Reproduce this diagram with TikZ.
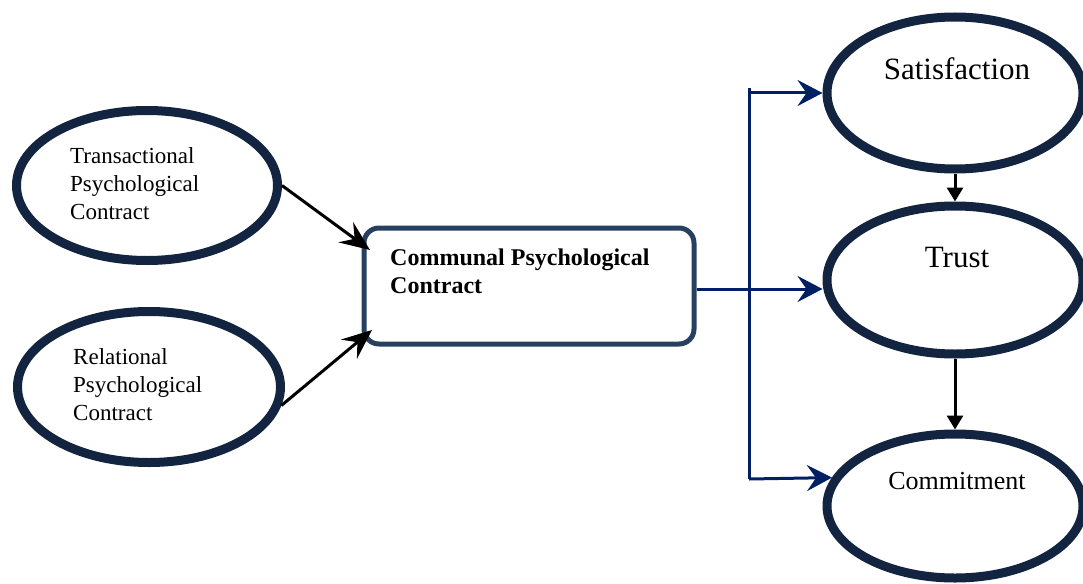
\documentclass[tikz,border=0pt]{standalone}
\usepackage{fontspec}
\setmainfont{Liberation Serif}
\usetikzlibrary{shapes.geometric,arrows.meta}

\definecolor{ovalblue}{RGB}{18,36,64}
\definecolor{boxblue}{RGB}{40,64,96}
\definecolor{linkblue}{RGB}{0,32,100}

\begin{document}
\begin{tikzpicture}[x=1pt,y=-1pt]
    % `construct' is used for all the ellipses.
    % `central' is used for the communal contract box.
    % `link' is for the blue connectors, `effect' and `drop' for the black ones.
    \tikzstyle{construct} = [draw=ovalblue,line width=9pt,ellipse,inner sep=0pt]
    \tikzstyle{central} = [draw=boxblue,line width=5pt,rounded corners=15pt,minimum width=330pt,minimum height=116pt]
    \tikzstyle{ctext} = [inner sep=0pt,align=left,anchor=base west]
    \tikzstyle{rtext} = [inner sep=0pt,anchor=base]
    \tikzstyle{link} = [draw=linkblue,line width=3pt,-{Stealth[length=25pt,width=26pt,inset=9pt]}]
    \tikzstyle{effect} = [draw=black,line width=3pt,-{Stealth[length=30pt,width=25pt,inset=11pt]}]
    \tikzstyle{drop} = [draw=black,line width=3pt,-{Triangle[length=14pt,width=16pt]}]
    %
    \useasboundingbox (0,0) rectangle (1083,583);

    % left side
    \node[construct,minimum width=261pt,minimum height=150pt] (trans) at (147,185.5) {};
    \node[construct,minimum width=263pt,minimum height=151pt] (rel) at (149,387) {};
    \node[ctext,font=\fontsize{23}{28}\selectfont] (trans text) at (70,219) {Transactional\\Psychological\\Contract};
    \node[ctext,font=\fontsize{23}{28}\selectfont] (rel text) at (73,420) {Relational\\Psychological\\Contract};

    % centre box
    \node[central] (cpc) at (529,286) {};
    \node[ctext,font=\fontsize{24}{28}\selectfont\bfseries] (cpc text) at (390,293) {Communal Psychological\\Contract};

    % right side
    \node[construct,minimum width=256pt,minimum height=152pt] (sat) at (955,93) {};
    \node[construct,minimum width=256pt,minimum height=148pt] (trust) at (955,280) {};
    \node[construct,minimum width=256pt,minimum height=144pt] (commit) at (955,506) {};
    \node[rtext,font=\fontsize{31}{36}\selectfont] (sat text) at (957,80) {Satisfaction};
    \node[rtext,font=\fontsize{31}{36}\selectfont] (trust text) at (957,267) {Trust};
    \node[rtext,font=\fontsize{26}{30}\selectfont] (commit text) at (957,489) {Commitment};

    % connectors
    \draw[effect] (trans.east) -- ([shift={(8.5,24.5)}]cpc.north west);
    \draw[effect] (rel.-8) -- ([shift={(10.5,-16.5)}]cpc.south west);

    \coordinate (spine top) at (749,88);
    \coordinate (spine bot) at (749,479);
    \draw[draw=linkblue,line width=3pt] (spine top) -- (spine bot);
    \draw[link] (spine top |- sat.west) -- (sat.west);
    \draw[link] ([yshift=-3pt]cpc.east) -- ([yshift=-3pt]cpc.east -| trust.west);
    \draw[link] (spine bot) -- (commit.167);

    \draw[drop] (sat.south) -- (trust.north);
    \draw[drop] (trust.south) -- (commit.north);
\end{tikzpicture}
\end{document}
